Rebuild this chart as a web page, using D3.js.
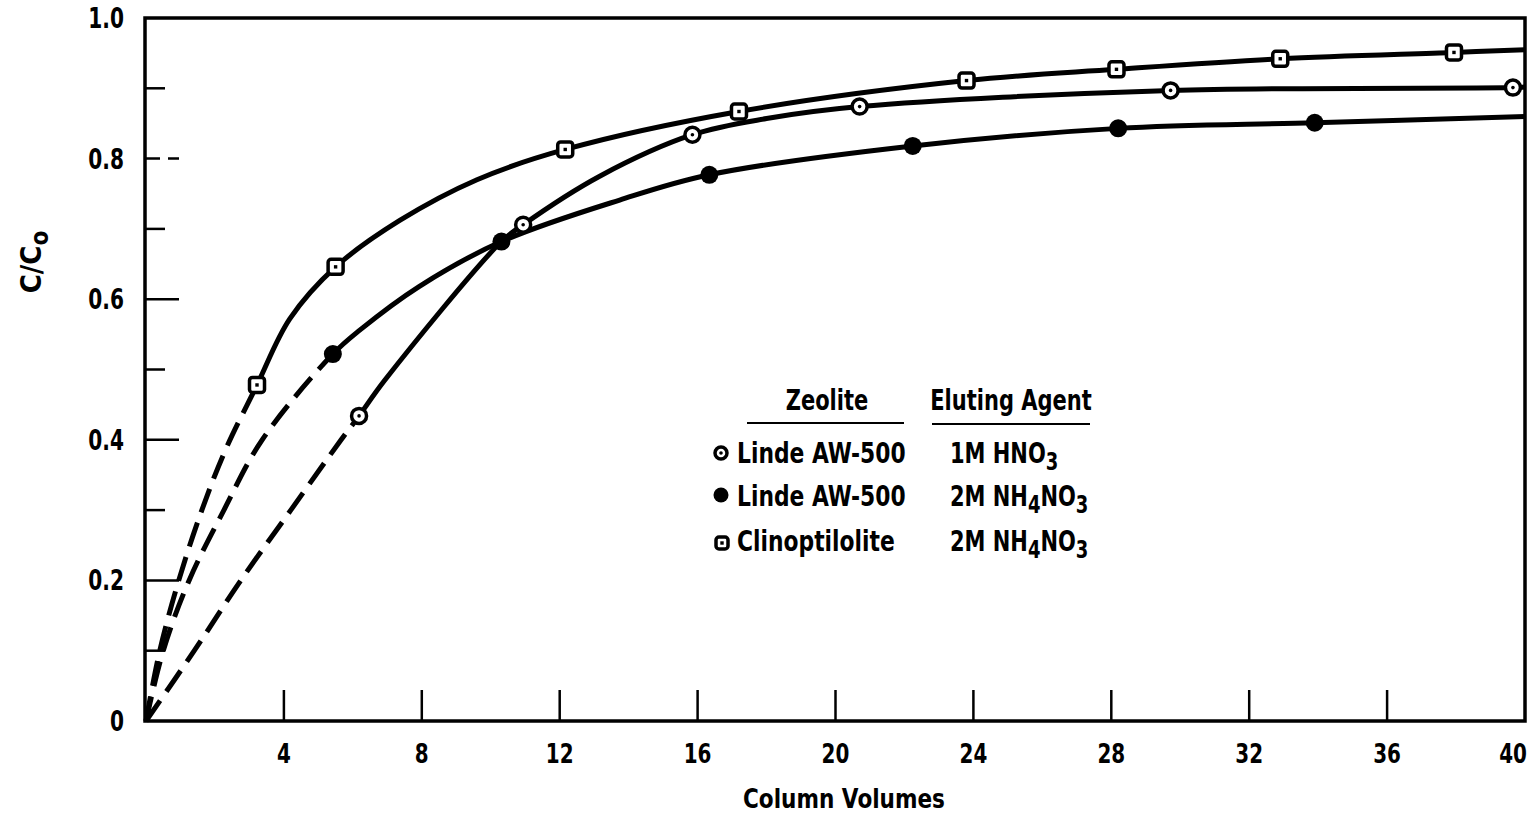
<!DOCTYPE html>
<html>
<head>
<meta charset="utf-8">
<script src="https://cdn.jsdelivr.net/npm/d3@7"></script>
<style>
  html, body { margin: 0; padding: 0; background: #fff; }
  svg text { font-family: "DejaVu Sans", "Liberation Sans", sans-serif; font-weight: bold; fill: #000; }
</style>
</head>
<body>
<svg id="chart" width="1530" height="824"></svg>
<script>
// Breakthrough / elution curves: C/C0 versus column volumes

const xTicks = [4, 8, 12, 16, 20, 24, 28, 32, 36, 40];
const yMajor = [0, 0.2, 0.4, 0.6, 0.8, 1.0];
const yMinor = [0.1, 0.3, 0.5, 0.7, 0.9];

// Clinoptilolite, 2M NH4NO3 (open squares)
const clinoMarkers = [[3.22,0.478],[5.5,0.646],[12.16,0.813],[17.2,0.867],[23.8,0.911],[28.15,0.927],[32.9,0.942],[37.94,0.951]];
const clinoDashed  = [[0,0],[0.4,0.1],[0.95,0.2],[1.62,0.3],[2.3,0.385],[3.22,0.478]];
const clinoSolid   = [[3.22,0.478],[4.17,0.572],[5.5,0.646],[7.36,0.712],[9.6,0.77],[12.16,0.813],[17.2,0.867],[23.8,0.911],[28.15,0.927],[32.9,0.942],[37.94,0.951],[40,0.955]];

// Linde AW-500, 1M HNO3 (dotted circles)
const hno3Markers = [[6.18,0.434],[10.94,0.706],[15.85,0.834],[20.7,0.874],[29.72,0.897],[39.65,0.901]];
const hno3Dashed  = [[0,0],[1.4,0.1],[2.75,0.2],[4.2,0.3],[5.66,0.4],[6.18,0.434]];
const hno3Solid   = [[6.18,0.434],[6.93,0.485],[10.31,0.682],[10.94,0.706],[13.16,0.775],[15.85,0.834],[18,0.857],[20.7,0.874],[29.72,0.897],[39.65,0.901],[40,0.902]];

// Linde AW-500, 2M NH4NO3 (filled circles)
const nh4Markers = [[5.42,0.522],[10.31,0.682],[16.34,0.777],[22.24,0.818],[28.2,0.843],[33.9,0.851]];
const nh4Dashed  = [[0,0],[0.5,0.1],[1.25,0.2],[2.26,0.3],[3.37,0.4],[5.42,0.522]];
const nh4Solid   = [[5.42,0.522],[6.2,0.556],[7.92,0.618],[10.31,0.682],[13.74,0.741],[16.34,0.777],[22.24,0.818],[28.2,0.843],[33.9,0.851],[40,0.86]];

const svg = d3.select("#chart");

const x = d3.scaleLinear().domain([0, 40]).range([146, 1525]);
const y = d3.scaleLinear().domain([0, 1]).range([721, 18]);

const ink = "#000";
const NARROW = 0.75;   // horizontal squeeze giving a condensed face

// text placed at (tx, ty) and squeezed horizontally
function label(parent, tx, ty, size, anchor, squeeze) {
  const g = parent.append("g").attr("transform", `translate(${tx},${ty}) scale(${squeeze || NARROW},1)`);
  return g.append("text").attr("x", 0).attr("y", 0)
    .attr("font-size", size).attr("text-anchor", anchor || "start");
}

// plot frame
svg.append("rect")
  .attr("x", x(0) - 1).attr("y", y(1))
  .attr("width", x(40) - x(0) + 1).attr("height", y(0) - y(1))
  .attr("fill", "none").attr("stroke", ink).attr("stroke-width", 3.5);

// y ticks (inside, major long, minor short)
svg.selectAll(".ymaj").data(yMajor.filter(d => d > 0 && d < 1)).enter().append("line")
  .attr("x1", x(0)).attr("x2", x(0) + 33)
  .attr("y1", d => y(d)).attr("y2", d => y(d))
  .attr("stroke", ink).attr("stroke-width", 2.5)
  .attr("stroke-dasharray", d => d === 0.8 ? "14 8 12" : null);
svg.selectAll(".ymin").data(yMinor).enter().append("line")
  .attr("x1", x(0)).attr("x2", x(0) + 19)
  .attr("y1", d => y(d)).attr("y2", d => y(d))
  .attr("stroke", ink).attr("stroke-width", 2.5);

// y tick labels
yMajor.forEach(d => {
  label(svg, 124, y(d) + 10, 28, "end", 0.72).text(d === 0 ? "0" : d.toFixed(1));
});

// x ticks (inside, upward)
svg.selectAll(".xt").data(xTicks.filter(d => d < 40)).enter().append("line")
  .attr("x1", d => x(d)).attr("x2", d => x(d))
  .attr("y1", y(0)).attr("y2", y(0) - 31)
  .attr("stroke", ink).attr("stroke-width", 2.5);

xTicks.forEach(d => {
  label(svg, d === 40 ? x(d) + 2 : x(d), 763, 27, d === 40 ? "end" : "middle", 0.74).text(d);
});

// axis titles
label(svg, 844, 808, 27, "middle", 0.8).text("Column Volumes");

const yTitleG = svg.append("g").attr("transform", "translate(41,262) rotate(-90) scale(0.9,1)");
const yTitle = yTitleG.append("text").attr("text-anchor", "middle").attr("font-size", 29);
yTitle.append("tspan").text("C/C");
yTitle.append("tspan").attr("dy", 7).attr("font-size", 24).text("o");

// curves: one smooth path per series, dashed up to the first marker and solid after it
const line = d3.line().x(d => x(d[0])).y(d => y(d[1])).curve(d3.curveCatmullRom.alpha(0.5));
const defs = svg.append("defs");

[[clinoDashed, clinoSolid, "c"], [hno3Dashed, hno3Solid, "h"], [nh4Dashed, nh4Solid, "n"]].forEach(([dash, solid, id]) => {
  const all = dash.concat(solid.slice(1));
  const split = x(solid[0][0]);
  defs.append("clipPath").attr("id", "dash-" + id)
    .append("rect").attr("x", 0).attr("y", 0).attr("width", split).attr("height", 824);
  defs.append("clipPath").attr("id", "solid-" + id)
    .append("rect").attr("x", split).attr("y", 0).attr("width", 1530 - split).attr("height", 824);
  svg.append("path").attr("d", line(all))
    .attr("clip-path", `url(#solid-${id})`)
    .attr("fill", "none").attr("stroke", ink).attr("stroke-width", 5);
  svg.append("path").attr("d", line(all))
    .attr("clip-path", `url(#dash-${id})`)
    .attr("fill", "none").attr("stroke", ink).attr("stroke-width", 5)
    .attr("stroke-dasharray", "25 11");
});

// markers
function openCircle(g, cx, cy, r) {
  g.append("circle").attr("cx", cx).attr("cy", cy).attr("r", r)
    .attr("fill", "#fff").attr("stroke", ink).attr("stroke-width", 3.5);
  g.append("circle").attr("cx", cx).attr("cy", cy).attr("r", 1.8).attr("fill", ink);
}
function filledCircle(g, cx, cy, r) {
  g.append("circle").attr("cx", cx).attr("cy", cy).attr("r", r).attr("fill", ink);
}
function openSquare(g, cx, cy, s) {
  g.append("rect").attr("x", cx - s / 2).attr("y", cy - s / 2)
    .attr("width", s).attr("height", s).attr("rx", 3)
    .attr("fill", "#fff").attr("stroke", ink).attr("stroke-width", 3.5);
  g.append("rect").attr("x", cx - 1.7).attr("y", cy - 1.7)
    .attr("width", 3.4).attr("height", 3.4).attr("fill", ink);
}

const mk = svg.append("g");
hno3Markers.forEach(d => openCircle(mk, x(d[0]), y(d[1]), 7.5));
nh4Markers.forEach(d => filledCircle(mk, x(d[0]), y(d[1]), 9));
clinoMarkers.forEach(d => openSquare(mk, x(d[0]), y(d[1]), 15));

// legend
const legendRows = [
  { zeolite: "Linde AW-500", agent: ["1M HNO", "3"], sym: "open" },
  { zeolite: "Linde AW-500", agent: ["2M NH", "4", "NO", "3"], sym: "filled" },
  { zeolite: "Clinoptilolite", agent: ["2M NH", "4", "NO", "3"], sym: "square" }
];
const lg = svg.append("g");
label(lg, 827, 410, 28, "middle").text("Zeolite");
label(lg, 1011, 410, 28, "middle").text("Eluting Agent");
lg.append("line").attr("x1", 747).attr("x2", 904).attr("y1", 423).attr("y2", 423)
  .attr("stroke", ink).attr("stroke-width", 2);
lg.append("line").attr("x1", 932).attr("x2", 1090).attr("y1", 424).attr("y2", 424)
  .attr("stroke", ink).attr("stroke-width", 2);

const rowY = [463, 506, 551];
legendRows.forEach((r, i) => {
  const by = rowY[i];
  if (r.sym === "open") openCircle(lg, 721, by - 10, 6);
  else if (r.sym === "filled") filledCircle(lg, 721, by - 11, 7.5);
  else openSquare(lg, 722, by - 8, 12);
  label(lg, 737, by, 28, "start", 0.78).text(r.zeolite);
  const t = label(lg, 950, by, 28);
  r.agent.forEach((s, k) => {
    const sub = k % 2 === 1;
    t.append("tspan").attr("dy", sub ? 7 : (k > 0 ? -7 : 0))
      .attr("font-size", sub ? 24 : 28).text(s);
  });
});
</script>
</body>
</html>
